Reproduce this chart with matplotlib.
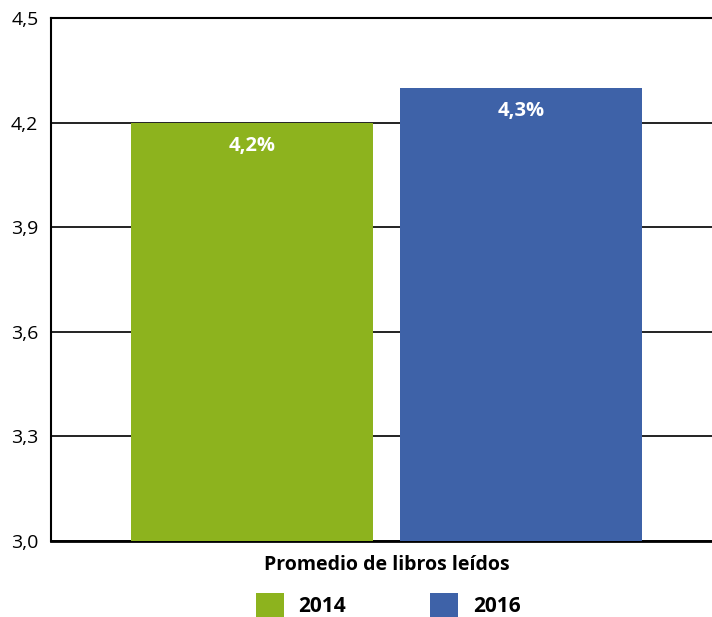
import matplotlib.pyplot as plt
from matplotlib.patches import Patch

# Datos
anios = ['2014', '2016']
promedio = [4.2, 4.3]
etiquetas = ['4,2%', '4,3%']
colores = ['#8db31e', '#3e62a8']
ticks_y = [3.0, 3.3, 3.6, 3.9, 4.2, 4.5]
ticks_y_txt = ['3,0', '3,3', '3,6', '3,9', '4,2', '4,5']

plt.rcParams['font.family'] = ['Open Sans', 'DejaVu Sans']

fig = plt.figure(figsize=(7.12, 6.17), dpi=100)
ax = fig.add_axes([51 / 712, 1 - 541 / 617, 661 / 712, 523 / 617])

posiciones = list(range(len(anios)))
barras = ax.bar(posiciones, [v - 3.0 for v in promedio], bottom=3.0,
                width=0.9, color=colores, zorder=3)

for b, txt in zip(barras, etiquetas):
    ax.text(b.get_x() + b.get_width() / 2, b.get_y() + b.get_height() - 0.038,
            txt, ha='center', va='top', color='white', fontsize=14.5,
            fontweight='bold', zorder=4)

ax.set_xlim(-0.747, 1.71)
ax.set_ylim(3.0, 4.5)
ax.set_yticks(ticks_y)
ax.set_yticklabels(ticks_y_txt, fontsize=14)
ax.set_xticks([])
ax.tick_params(axis='y', length=0, pad=9)
ax.yaxis.grid(True, color='#111111', linewidth=1.3, zorder=0)
ax.set_axisbelow(True)

ax.spines['right'].set_visible(False)
ax.spines['top'].set_linewidth(1.5)
ax.spines['left'].set_linewidth(1.5)
ax.spines['bottom'].set_linewidth(2)

fig.text(387 / 712, 1 - 565 / 617, 'Promedio de libros leídos', ha='center',
         va='center', fontsize=14, fontweight='bold')

handles = [Patch(facecolor=c, label=a) for c, a in zip(colores, anios)]
fig.legend(handles=handles, loc='center', bbox_to_anchor=(388 / 712, 1 - 605 / 617),
           ncol=2, frameon=False, prop={'weight': 'bold', 'size': 15},
           handlelength=1.35, handleheight=1.35, handletextpad=0.72,
           columnspacing=4.0, borderpad=0, borderaxespad=0)

plt.savefig('out.png', dpi=100)
